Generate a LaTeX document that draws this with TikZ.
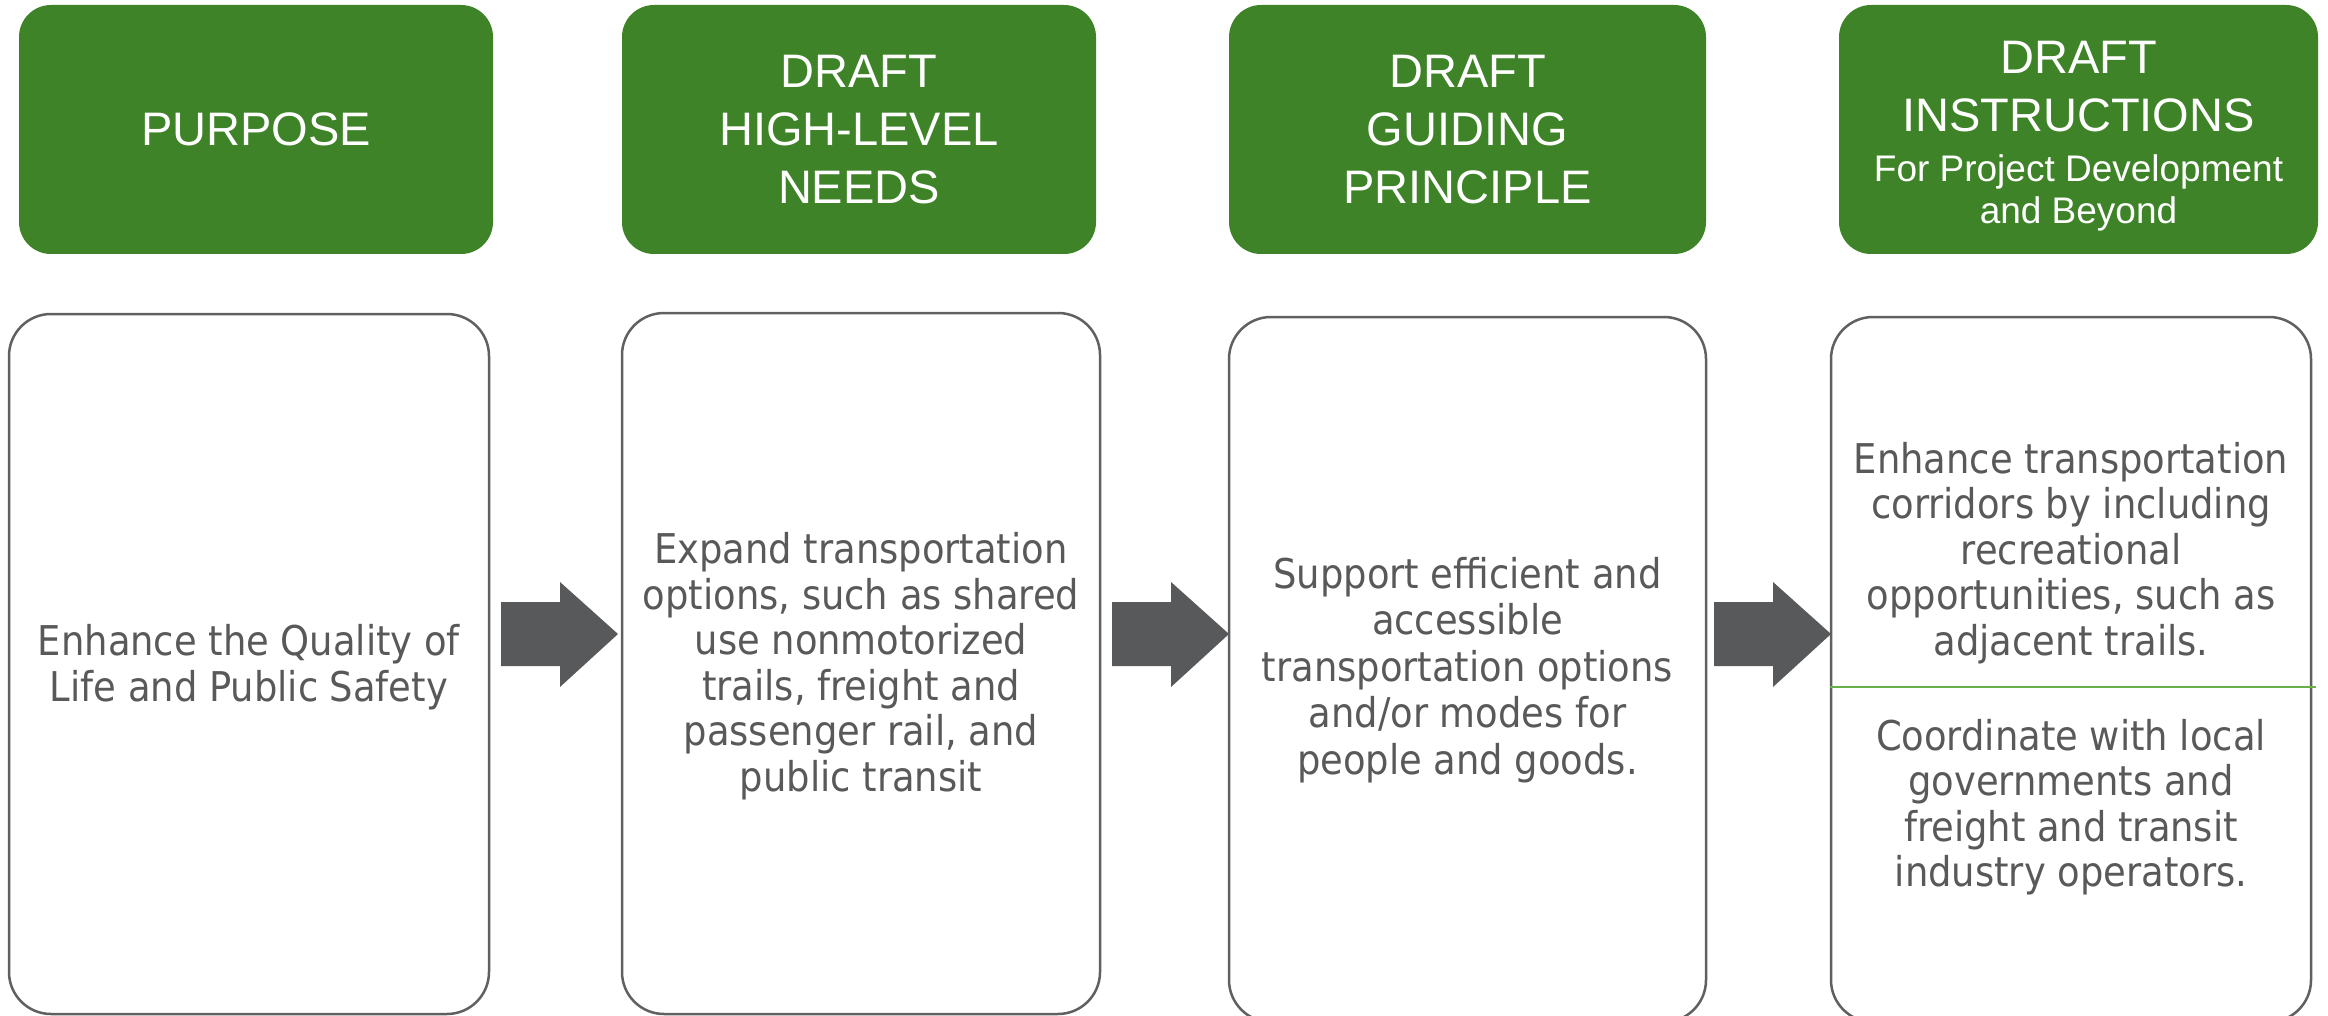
\documentclass[tikz,border=0pt]{standalone}
\usepackage{fontspec}
\setmainfont{Liberation Sans}
\newfontfamily\bodyfont{DejaVu Sans Condensed}
\definecolor{hgreen}{RGB}{62,131,39}
\definecolor{bgray}{RGB}{96,96,96}
\definecolor{tgray}{RGB}{89,89,89}
\definecolor{agray}{RGB}{88,89,91}
\definecolor{lgreen}{RGB}{104,176,72}
\newcommand\blockarrow[1]{%
  \fill[agray] (#1,602) -- ++(59,0) -- ++(0,-20) -- ++(58,52) -- ++(-58,53) -- ++(0,-21) -- ++(-59,0) -- cycle;}
\begin{document}
\begin{tikzpicture}[x=1pt,y=-1pt,
  head/.style={fill=hgreen, rounded corners=32pt, inner sep=0pt, minimum height=249pt,
    text=white, font=\fontsize{47}{58}\selectfont, align=center},
  bodybox/.style={draw=bgray, line width=2.5pt, rounded corners=42pt, inner sep=0pt},
  btext/.style={text=tgray, font=\bodyfont\fontsize{41}{45.5}\selectfont, align=center, inner sep=0pt}]
\useasboundingbox (0,0) rectangle (2328,1016);
\fill[white] (0,0) rectangle (2328,1016);
% headers
\node[head, minimum width=474pt] (h1) at (256,129.5) {PURPOSE};
\node[head, minimum width=474pt] (h2) at (859,129.5) {DRAFT\\HIGH-LEVEL\\NEEDS};
\node[head, minimum width=477pt] (h3) at (1467.5,129.5) {DRAFT\\GUIDING\\PRINCIPLE};
\node[head, minimum width=479pt] (h4) at (2078.5,129.5) {};
\node[text=white, font=\fontsize{47}{58}\selectfont, align=center, inner sep=0pt] (h4t) at (2078.5,136)
  {DRAFT\\INSTRUCTIONS\\[-8pt]{\fontsize{37}{38}\selectfont For Project Development}\\[-16pt]{\fontsize{37}{38}\selectfont and Beyond}};
% body boxes
\node[bodybox, minimum width=480pt, minimum height=700pt] (b1) at (249,664) {};
\node[bodybox, minimum width=478pt, minimum height=701pt] (b2) at (861,663.5) {};
\node[bodybox, minimum width=477pt, minimum height=705pt] (b3) at (1467.5,669.5) {};
\node[bodybox, minimum width=480pt, minimum height=705pt] (b4) at (2071,669.5) {};
% divider in box 4
\draw[lgreen, line width=1.5pt] (b4.west |- 0,687) coordinate (d1) -- (2316,687) coordinate (d2);
% texts
\node[btext] (t1) at (249,667) {Enhance the Quality of\\Life and Public Safety};
\node[btext] (t2) at (861,666) {Expand transportation\\options, such as shared\\use nonmotorized\\trails, freight and\\passenger rail, and\\public transit};
\node[btext, font=\bodyfont\fontsize{41}{46.5}\selectfont] (t3) at (1467.5,670) {Support efficient and\\accessible\\transportation options\\and/or modes for\\people and goods.};
\node[btext] (t4a) at (2071,553) {Enhance transportation\\corridors by including\\recreational\\opportunities, such as\\adjacent trails.};
\node[btext] (t4b) at (2071,807) {Coordinate with local\\governments and\\freight and transit\\industry operators.};
% arrows
\blockarrow{501}
\blockarrow{1112}
\blockarrow{1714}
\end{tikzpicture}
\end{document}
